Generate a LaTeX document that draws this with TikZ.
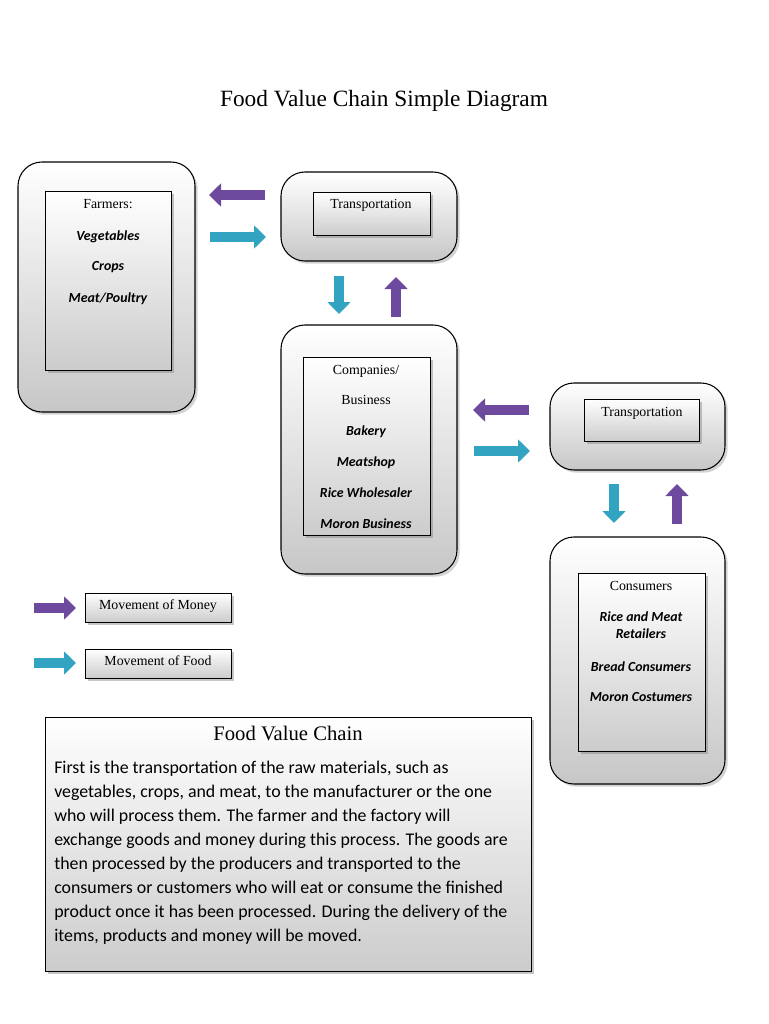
\documentclass[tikz,border=0pt]{standalone}
\usepackage{fontspec}
\setmainfont{Liberation Serif}
\newfontfamily\carl{Carlito}
\usetikzlibrary{arrows.meta,shadows}
\definecolor{money}{HTML}{6E4A9E}
\definecolor{food}{HTML}{33A3C2}
\begin{document}
\begin{tikzpicture}[x=0.75pt,y=-0.75pt,
 outer/.style={draw=black,line width=0.8pt,rounded corners=18pt,top color=white,bottom color=black!22,drop shadow={opacity=0.35,shadow xshift=2pt,shadow yshift=-2pt}},
 inner/.style={draw=black,line width=0.7pt,top color=white,bottom color=black!20,drop shadow={opacity=0.45,shadow xshift=2pt,shadow yshift=-2pt}},
 lbl/.style={font=\fontsize{10.4}{12}\selectfont,anchor=north},
 itm/.style={font=\carl\fontsize{10.4}{12}\selectfont\bfseries\itshape,anchor=north,align=center},
 blk/.style={line width=7.5pt,-{Triangle[length=9pt,width=17pt]}},
]
\useasboundingbox (0,0) rectangle (768,1024);
\node[font=\fontsize{17.5}{19}\selectfont] (title) at (384,101) {Food Value Chain Simple Diagram};
% boxes
\path[outer] (18,162) rectangle (195,412); \path[inner] (45,191) rectangle (171,370);
\path[outer] (281,172) rectangle (457,261); \path[inner] (313,192) rectangle (430,235);
\path[outer] (281,325) rectangle (457,574); \path[inner] (303,357) rectangle (430,535);
\path[outer] (550,383) rectangle (725,470); \path[inner] (584,399) rectangle (699,441);
\path[outer] (550,537) rectangle (725,784); \path[inner] (578,573) rectangle (705,751);
% texts
\node[lbl] (f) at (108,195) {Farmers:};
\node[itm] (f1) at (108,226) {Vegetables};
\node[itm] (f2) at (108,257) {Crops};
\node[itm] (f3) at (108,288) {Meat/Poultry};
\node[lbl] (t1) at (371,195) {Transportation};
\node[lbl] (c) at (366,361) {Companies/};
\node[lbl] (c0) at (366,391) {Business};
\node[itm] (c1) at (366,421) {Bakery};
\node[itm] (c2) at (366,452) {Meatshop};
\node[itm] (c3) at (366,483) {Rice Wholesaler};
\node[itm] (c4) at (366,514) {Moron Business};
\node[lbl] (t2) at (642,403) {Transportation};
\node[lbl] (k) at (641,577) {Consumers};
\node[itm] (k1) at (641,607) {Rice and Meat\\[1pt]Retailers};
\node[itm] (k2) at (641,657) {Bread Consumers};
\node[itm] (k3) at (641,688) {Moron Costumers};
% arrows
\coordinate (a1s) at (265,195); \coordinate (a1e) at (209,195);
\coordinate (a2s) at (210,237); \coordinate (a2e) at (266,237);
\coordinate (a3s) at (339,276); \coordinate (a3e) at (339,314);
\coordinate (a4s) at (396,317); \coordinate (a4e) at (396,277);
\coordinate (a5s) at (529,410); \coordinate (a5e) at (473,410);
\coordinate (a6s) at (474,451); \coordinate (a6e) at (530,451);
\coordinate (a7s) at (614,484); \coordinate (a7e) at (614,523);
\coordinate (a8s) at (677,524); \coordinate (a8e) at (677,484);
\draw[blk,money] (a1s) -- (a1e);
\draw[blk,food] (a2s) -- (a2e);
\draw[blk,food] (a3s) -- (a3e);
\draw[blk,money] (a4s) -- (a4e);
\draw[blk,money] (a5s) -- (a5e);
\draw[blk,food] (a6s) -- (a6e);
\draw[blk,food] (a7s) -- (a7e);
\draw[blk,money] (a8s) -- (a8e);
% legend
\coordinate (l1s) at (34,608); \coordinate (l1e) at (76,608);
\coordinate (l2s) at (34,663); \coordinate (l2e) at (76,663);
\draw[blk,money] (l1s) -- (l1e);
\draw[blk,food] (l2s) -- (l2e);
\path[inner] (85,593) rectangle (231,622);
\path[inner] (85,649) rectangle (231,678);
\node[lbl] (m1) at (158,595) {Movement of Money};
\node[lbl] (m2) at (158,651) {Movement of Food};
% text box
\path[inner] (45,717) rectangle (531,971);
\node[font=\fontsize{15.5}{17}\selectfont] (vt) at (288,733) {Food Value Chain};
\node[font=\carl\fontsize{13.4}{18}\selectfont,anchor=north west,align=left,inner sep=0pt] (body) at (54,761) {First is the transportation of the raw materials, such as\\
vegetables, crops, and meat, to the manufacturer or the one\\
who will process them. The farmer and the factory will\\
exchange goods and money during this process. The goods are\\
then processed by the producers and transported to the\\
consumers or customers who will eat or consume the finished\\
product once it has been processed. During the delivery of the\\
items, products and money will be moved.};
\end{tikzpicture}
\end{document}
